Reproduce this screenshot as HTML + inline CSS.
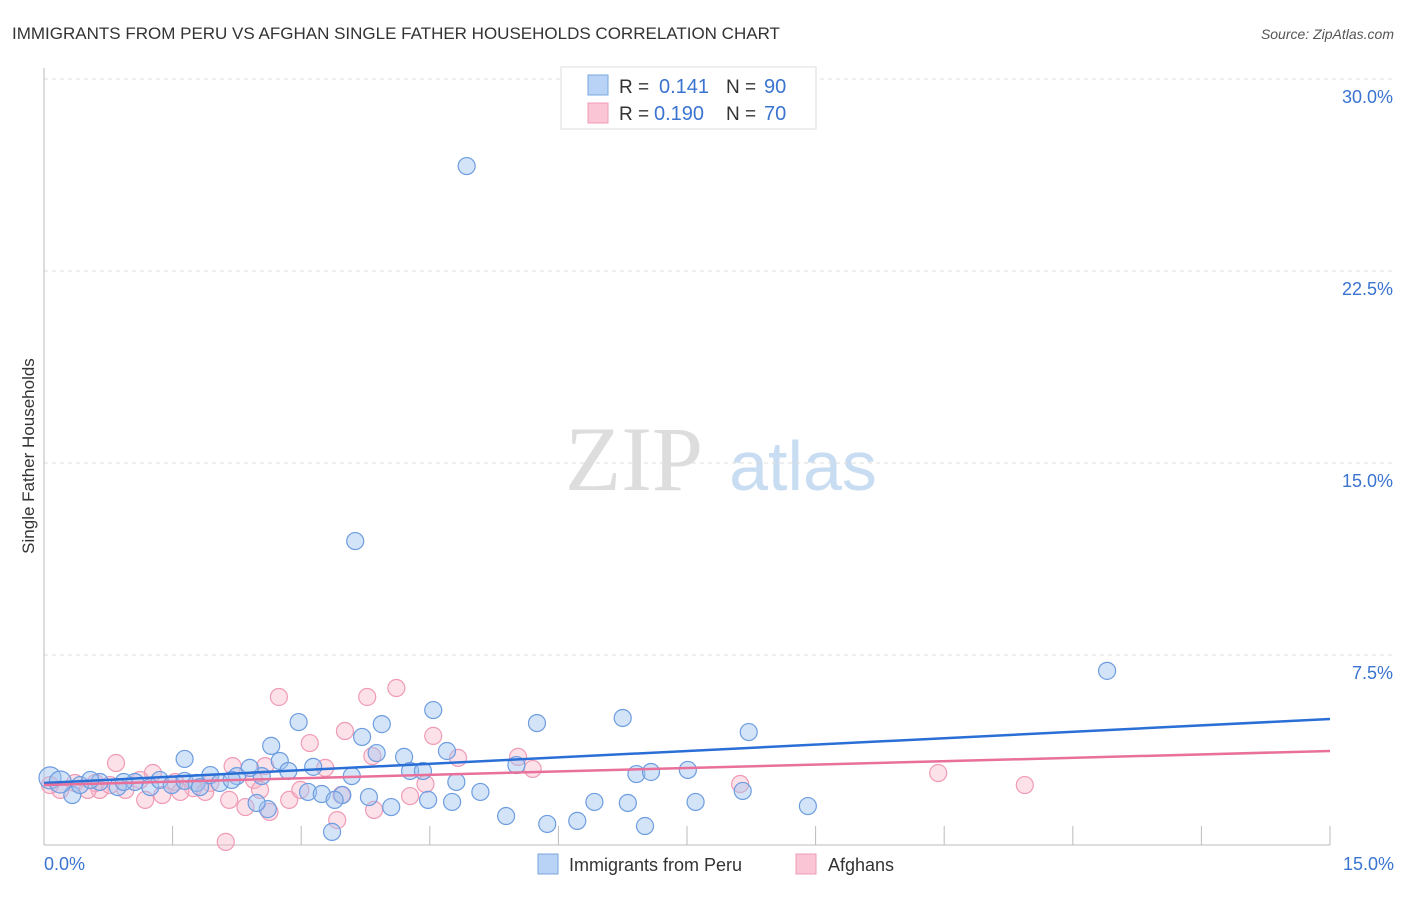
<!DOCTYPE html>
<html><head><meta charset="utf-8"><style>
body{margin:0;background:#fff;font-family:"Liberation Sans",sans-serif;}
svg text{font-family:"Liberation Sans",sans-serif;}
</style></head><body>
<svg width="1406" height="892" viewBox="0 0 1406 892">
<text x="12" y="39" font-size="17" fill="#333">IMMIGRANTS FROM PERU VS AFGHAN SINGLE FATHER HOUSEHOLDS CORRELATION CHART</text>
<text x="1394" y="39" font-size="14" fill="#555" font-style="italic" text-anchor="end">Source: ZipAtlas.com</text>
<text x="34" y="456" font-size="17" fill="#333" transform="rotate(-90 34 456)" text-anchor="middle">Single Father Households</text>
<g>
<text x="634" y="490" font-size="92" fill="#ddd" font-family="Liberation Serif" text-anchor="middle" style="font-family:'Liberation Serif',serif">ZIP</text>
<text x="803" y="490" font-size="70" fill="#c8dcf2" text-anchor="middle">atlas</text>
</g>
<g id="grid"></g>
<g id="axes"></g>
<g id="marks"></g>
<g>
<rect x="561" y="67" width="255" height="62" fill="#fff" stroke="#ddd"/>
<rect x="588" y="75" width="20" height="20" fill="#b8d3f5" stroke="#7aa7e0"/>
<rect x="588" y="103" width="20" height="20" fill="#fac6d5" stroke="#f09bb5"/>
<text x="619" y="93" font-size="19" fill="#333">R =</text><text x="659" y="93" font-size="20" fill="#3a74d0">0.141</text>
<text x="726" y="93" font-size="19" fill="#333">N =</text><text x="764" y="93" font-size="20" fill="#3a74d0">90</text>
<text x="619" y="120" font-size="19" fill="#333">R =</text><text x="654" y="120" font-size="20" fill="#3a74d0">0.190</text>
<text x="726" y="120" font-size="19" fill="#333">N =</text><text x="764" y="120" font-size="20" fill="#3a74d0">70</text>
</g>
<g>
<rect x="538" y="854" width="20" height="20" fill="#b8d3f5" stroke="#7aa7e0"/>
<text x="569" y="871" font-size="18" fill="#333">Immigrants from Peru</text>
<rect x="796" y="854" width="20" height="20" fill="#fac6d5" stroke="#f09bb5"/>
<text x="828" y="871" font-size="18" fill="#333">Afghans</text>
</g>
</svg>
<script>
const yTicks=[7.5,15,22.5,30];
const yTickLabels=["7.5%","15.0%","22.5%","30.0%"];
const xTicks=[1.5,3,4.5,6,7.5,9,10.5,12,13.5,15];
const xEndLabels=["0.0%","15.0%"];
const peruX=[4.93,3.63,12.4,4.54,2.97,3.94,5.75,6.75,8.22,2.65,3.71,4.70,3.88,4.20,1.64,2.75,3.14,5.51,4.27,4.42,2.85,3.59,6.91,7.08,7.51,4.81,2.54,2.25,1.94,8.15,5.09,3.08,3.24,3.48,3.79,4.48,4.76,6.42,6.81,7.6,8.91,4.05,2.61,2.48,5.39,5.87,6.22,7.01,3.36,3.39,0.33,0.07,0.19,0.42,0.65,0.86,1.06,1.24,1.35,1.49,1.64,1.78,2.05,2.19,0.93,0.54,1.82,2.40];
const peruY=[26.6,11.95,6.88,5.35,4.88,4.80,4.84,5.04,4.49,3.95,4.30,3.75,3.67,3.52,3.44,3.36,3.13,3.20,2.97,2.97,2.97,2.77,2.85,2.93,3.01,2.54,2.77,2.77,2.81,2.19,2.15,2.15,2.07,2.03,1.95,1.84,1.76,1.76,1.72,1.76,1.60,1.56,1.48,1.72,1.21,0.90,1.02,0.82,0.59,1.84,2.03,2.7,2.54,2.42,2.54,2.34,2.54,2.34,2.62,2.42,2.58,2.50,2.50,2.62,2.54,2.62,2.34,3.09];
const afgX=[2.74,4.11,3.77,3.10,3.51,4.54,4.83,5.53,3.83,0.84,2.20,5.70,10.43,11.44,8.12,2.45,1.27,1.74,2.16,2.35,2.63,2.86,3.47,3.85,4.27,3.42,2.12,1.18,1.38,0.95,0.65,0.19,0.36,0.6,1.12,1.53,1.94,2.52,2.99,3.28,2.58,1.88,1.59,4.45,0.77,0.07,0.51];
const afgY=[5.86,6.21,5.86,4.06,4.53,4.34,3.48,3.52,3.55,3.28,3.16,3.05,2.89,2.42,2.46,2.62,2.89,2.30,1.84,1.56,1.37,1.84,2.03,1.45,1.99,1.05,0.2,1.84,2.03,2.23,2.23,2.23,2.50,2.5,2.62,2.54,2.50,2.23,2.23,3.09,3.16,2.15,2.15,2.46,2.42,2.42,2.23];
const peruTrend=[2.5,5.0];
const afgTrend=[2.42,3.75];
const X0=44,X1=1330,Y0=847,Y1=79;
const xs=v=>X0+(X1-X0)*v/15;
const ys=v=>Y0-(Y0-Y1)*v/30;
const NS="http://www.w3.org/2000/svg";
function mk(tag,attrs,parent){const e=document.createElementNS(NS,tag);for(const k in attrs)e.setAttribute(k,attrs[k]);document.getElementById(parent).appendChild(e);return e;}
yTicks.forEach((t,i)=>{
 const l=mk('line',{x1:X0,x2:1394,y1:ys(t),y2:ys(t),stroke:'#ddd','stroke-dasharray':'4 4'},'grid');
 
 
 const tx=mk('text',{x:1393,y:ys(t)+24,'font-size':18,fill:'#3a74d0','text-anchor':'end'},'axes');
 tx.textContent=yTickLabels[i];
 
 
});
const ax=mk('line',{x1:X0,x2:X0,y1:68,y2:845,stroke:'#bbb'},'axes');


const bx=mk('line',{x1:X0,x2:X1,y1:845,y2:845,stroke:'#bbb'},'axes');


xTicks.forEach(t=>{
 const l=mk('line',{x1:xs(t),x2:xs(t),y1:826,y2:845,stroke:'#bbb'},'axes');
 
 
});
[[0,'start',44],[15,'end',1394]].forEach((d,i)=>{
 const tx=mk('text',{x:d[2],y:870,'font-size':18,fill:'#3a74d0','text-anchor':d[1]},'axes');
 tx.textContent=xEndLabels[i];
 
 
});
afgX.forEach((x,i)=>{
 const c=mk('circle',{cx:xs(x),cy:ys(afgY[i]),r:8.5,fill:'rgba(248,180,200,0.4)',stroke:'#f09bb5','stroke-width':1.2},'marks');
 
 
});
peruX.forEach((x,i)=>{
 const c=mk('circle',{cx:xs(x),cy:ys(peruY[i]),r:x<0.2?11:8.5,fill:'rgba(160,196,240,0.45)',stroke:'#6d9de0','stroke-width':1.2},'marks');
 
 
});
const t1=mk('line',{x1:xs(0),x2:xs(15),y1:ys(peruTrend[0]),y2:ys(peruTrend[1]),stroke:'#2a6fd6','stroke-width':2.5},'marks');


const t2=mk('line',{x1:xs(0),x2:xs(15),y1:ys(afgTrend[0]),y2:ys(afgTrend[1]),stroke:'#e8709a','stroke-width':2.5},'marks');


</script>
</body></html>
